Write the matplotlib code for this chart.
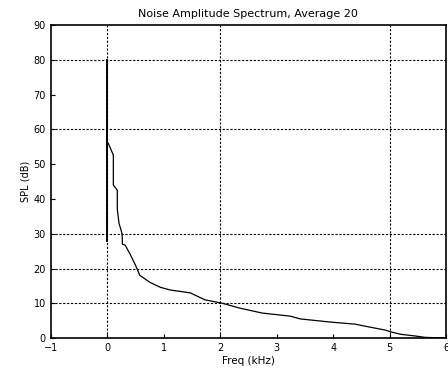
import matplotlib
matplotlib.use("Agg")
import matplotlib.pyplot as plt

# spike at 0 kHz
spike_x = [0.0, 0.0]
spike_y = [28, 80]

# noise spectrum
freq_khz = [0.02, 0.11, 0.11, 0.18, 0.18, 0.21, 0.265, 0.27, 0.32, 0.41, 0.5, 0.58,
            0.67, 0.76, 0.94, 1.12, 1.47, 1.73, 2.04, 2.35, 2.74, 3.24, 3.42, 3.95,
            4.39, 4.57, 4.92, 5.04, 5.19, 5.45, 5.63, 6.0]
spl_db = [56, 52.6, 44, 42.5, 37, 33, 30, 27, 26.7, 24, 21, 18,
          17, 16, 14.6, 13.8, 13, 11, 10, 8.6, 7.2, 6.3, 5.5, 4.6,
          4.0, 3.4, 2.3, 1.7, 1.1, 0.6, 0.2, 0.0]

x_ticks = [-1, 0, 1, 2, 3, 4, 5, 6]
y_ticks = [0, 10, 20, 30, 40, 50, 60, 70, 80, 90]
grid_x = [0, 2, 5]
grid_y = [10, 20, 30, 60, 80]

fig = plt.figure(figsize=(4.48, 3.79), dpi=100)
ax = fig.add_axes([0.113, 0.108, 0.883, 0.826])

for gx in grid_x:
    ax.axvline(gx, color="black", lw=0.8, ls=(0, (2, 1.5)), zorder=1)
for gy in grid_y:
    ax.axhline(gy, color="black", lw=0.8, ls=(0, (2, 1.5)), zorder=1)

ax.plot(spike_x, spike_y, color="black", lw=1.4, zorder=3)
ax.plot(freq_khz, spl_db, color="black", lw=0.9, zorder=3)

ax.set_xlim(-1, 6)
ax.set_ylim(0, 90)
ax.set_xticks(x_ticks)
ax.set_yticks(y_ticks)
ax.tick_params(direction="in", length=3, width=0.8, labelsize=7)
for s in ax.spines.values():
    s.set_linewidth(1.2)

ax.set_title("Noise Amplitude Spectrum, Average 20", fontsize=8, pad=6)
ax.set_xlabel("Freq (kHz)", fontsize=7.5, labelpad=2)
ax.set_ylabel("SPL (dB)", fontsize=7, labelpad=2)

fig.savefig("out.png", dpi=100)
